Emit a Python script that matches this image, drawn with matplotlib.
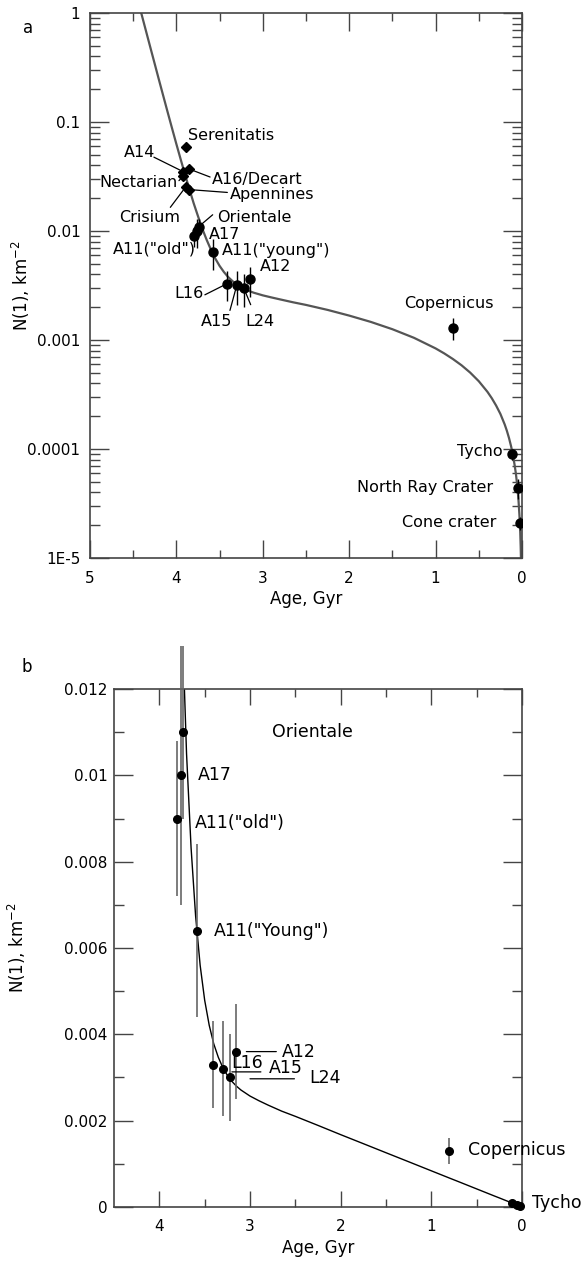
import numpy as np
import matplotlib.pyplot as plt

# crater counts (ages in Gyr, N(1) per km^2)
names = ['Serenitatis', 'A14', 'Nectarian', 'A16/Decart', 'Apennines', 'Crisium',
         'Orientale', 'A17', 'A11("old")', 'A11("young")', 'L16', 'A15', 'L24', 'A12',
         'Copernicus', 'Tycho', 'North Ray Crater', 'Cone crater']
ages = [3.89, 3.92, 3.92, 3.85, 3.85, 3.89,
        3.74, 3.76, 3.80, 3.58, 3.41, 3.30, 3.22, 3.15,
        0.80, 0.11, 0.05, 0.025]
n1 = [0.059, 0.035, 0.032, 0.037, 0.024, 0.0255,
      0.011, 0.010, 0.009, 0.0064, 0.0033, 0.0032, 0.0030, 0.0036,
      0.0013, 9e-5, 4.4e-5, 2.1e-5]
n1_err = [0, 0, 0, 0, 0, 0,
          0.002, 0.003, 0.0018, 0.002, 0.001, 0.0011, 0.001, 0.0011,
          0.0003, 1e-5, 0.9e-5, 0.3e-5]
basins = ['Serenitatis', 'A14', 'Nectarian', 'A16/Decart', 'Apennines', 'Crisium']

# chronology curve
curve_age = [4.45, 4.40, 4.35, 4.30, 4.25, 4.20, 4.15, 4.10, 4.05, 4.00, 3.95, 3.90,
             3.85, 3.80, 3.75, 3.70, 3.65, 3.60, 3.55, 3.50, 3.45, 3.40, 3.35, 3.30,
             3.25, 3.20, 3.15, 3.10, 3.05, 3.00, 2.90, 2.80, 2.65, 2.50, 2.25, 2.00,
             1.75, 1.50, 1.25, 1.00, 0.90, 0.80, 0.70, 0.60, 0.50, 0.40, 0.35, 0.30,
             0.25, 0.20, 0.175, 0.15, 0.125, 0.10, 0.085, 0.07, 0.06, 0.05, 0.04,
             0.03, 0.025, 0.02, 0.015, 0.01, 0.0]
curve_n1 = [1.348, 0.955, 0.676, 0.479, 0.340, 0.241, 0.1716, 0.1223, 0.0875, 0.0628,
            0.0454, 0.0330, 0.0243, 0.0180, 0.0137, 0.0105, 0.00832, 0.00674, 0.0056,
            0.00479, 0.00421, 0.00378, 0.00347, 0.00323, 0.00305, 0.00291, 0.0028,
            0.00271, 0.00264, 0.00257, 0.00246, 0.00236, 0.00222, 0.0021, 0.00189,
            0.001676, 0.001467, 0.001257, 0.001048, 0.000838, 0.000754, 0.00067,
            0.000587, 0.000503, 0.000419, 0.000335, 0.000293, 0.000251, 0.00021,
            0.000168, 0.000147, 0.000126, 0.000105, 8.4e-5, 7.1e-5, 5.9e-5, 5.0e-5,
            4.2e-5, 3.35e-5, 2.5e-5, 2.1e-5, 1.7e-5, 1.26e-5, 8.4e-6, 0.0]

ages = np.array(ages)
n1 = np.array(n1)
n1_err = np.array(n1_err)
is_basin = np.array([nm in basins for nm in names])

# label placement (x, y, ha) and leader start points
labels_a = {
    'Serenitatis': ('Serenitatis', 3.87, 0.0757, 'left'),
    'A14': ('A14', 4.25, 0.052, 'right'),
    'Nectarian': ('Nectarian', 3.98, 0.0276, 'right'),
    'A16/Decart': ('A16/Decart', 3.59, 0.0295, 'left'),
    'Apennines': ('Apennines', 3.38, 0.0218, 'left'),
    'Crisium': ('Crisium', 4.31, 0.0134, 'center'),
    'Orientale': ('Orientale', 3.53, 0.0134, 'left'),
    'A17': ('A17', 3.62, 0.0092, 'left'),
    'A11("old")': ('A11("old")', 3.78, 0.0068, 'right'),
    'A11("young")': ('A11("young")', 3.47, 0.0066, 'left'),
    'A12': ('A12', 3.03, 0.0047, 'left'),
    'L16': ('L16', 3.69, 0.0027, 'right'),
    'A15': ('A15', 3.54, 0.00147, 'center'),
    'L24': ('L24', 3.03, 0.00147, 'center'),
    'Copernicus': ('Copernicus', 0.845, 0.00215, 'center'),
    'Tycho': ('Tycho', 0.22, 9.4e-5, 'right'),
    'North Ray Crater': ('North Ray Crater', 0.335, 4.4e-5, 'right'),
    'Cone crater': ('Cone crater', 0.30, 2.1e-5, 'right'),
}
leaders_a = {
    'A14': (4.26, 0.0476),
    'Nectarian': (3.97, 0.029),
    'A16/Decart': (3.61, 0.0313),
    'Apennines': (3.41, 0.0226),
    'Crisium': (4.07, 0.0165),
    'Orientale': (3.58, 0.0141),
    'L16': (3.67, 0.0026),
    'A15': (3.38, 0.00187),
    'L24': (3.14, 0.00211),
}
labels_b = {
    'Orientale': ('Orientale', 2.76, 0.011, 'left'),
    'A17': ('A17', 3.57, 0.0100, 'left'),
    'A11("old")': ('A11("old")', 3.61, 0.0089, 'left'),
    'A11("young")': ('A11("Young")', 3.40, 0.0064, 'left'),
    'A12': ('A12', 2.65, 0.0036, 'left'),
    'L16': ('L16', 3.03, 0.00334, 'center'),
    'A15': ('A15', 2.61, 0.00322, 'center'),
    'L24': ('L24', 2.17, 0.00299, 'center'),
    'Copernicus': ('Copernicus', 0.60, 0.00132, 'left'),
    'Tycho': ('Tycho', -0.11, 0.0001, 'left'),
}
rules_b = [(3.04, 2.71, 0.0036), (3.20, 2.88, 0.00313), (3.00, 2.51, 0.00297)]

SPINE = '#444444'


def style_axes(ax, xmaj, xmin, ymaj, ymin, ypad):
    for s in ax.spines.values():
        s.set_color(SPINE)
        s.set_linewidth(1.2)
    ax.tick_params(which='both', direction='in', top=True, right=True,
                   color=SPINE, width=1.0, labelsize=11)
    ax.tick_params(axis='x', which='major', length=xmaj, pad=9)
    ax.tick_params(axis='x', which='minor', length=xmin)
    ax.tick_params(axis='y', which='major', length=ymaj, pad=ypad)
    ax.tick_params(axis='y', which='minor', length=ymin)


fig = plt.figure(figsize=(5.85, 12.64), dpi=100)

# ---- panel a (log) ----
ax = fig.add_axes([0.1538, 0.5585, 0.7385, 0.4312])
ax.set_yscale('log')
ax.plot(curve_age, curve_n1, color='#555555', lw=1.6, zorder=2)
circ = ~is_basin
ax.errorbar(ages[circ], n1[circ], yerr=n1_err[circ], fmt='o', color='black',
            ms=6.5, elinewidth=1.0, capsize=0, zorder=3)
ax.plot(ages[is_basin], n1[is_basin], 'D', color='black', ms=5.5, zorder=3)
for nm, (txt, tx, ty, ha) in labels_a.items():
    ax.text(tx, ty, txt, ha=ha, va='center', fontsize=11.5)
for nm, (sx, sy) in leaders_a.items():
    i = names.index(nm)
    ax.annotate('', xy=(ages[i], n1[i]), xytext=(sx, sy),
                arrowprops=dict(arrowstyle='-', color='black', lw=0.9,
                                shrinkA=0, shrinkB=3))
ax.set_xlim(5, 0)
ax.set_ylim(1e-5, 1)
ax.set_xticks([5, 4, 3, 2, 1, 0])
ax.set_xticks(np.arange(0.5, 5, 1.0), minor=True)
ax.set_yticks([1e-5, 1e-4, 1e-3, 1e-2, 1e-1, 1])
ax.set_yticklabels(['1E-5', '0.0001', '0.001', '0.01', '0.1', '1'])
style_axes(ax, 13, 6, 14, 7, 7)
ax.set_xlabel('Age, Gyr', fontsize=12)
ax.set_ylabel('N(1), km$^{-2}$', fontsize=12)
ax.xaxis.set_label_coords(0.5, -0.059)
ax.yaxis.set_label_coords(-0.135, 0.5)
fig.text(28 / 585, 1 - 28 / 1264, 'a', fontsize=12, ha='center', va='center')

# ---- panel b (linear) ----
bx = fig.add_axes([0.1949, 0.0451, 0.6974, 0.4098])
bx.plot(curve_age, curve_n1, color='black', lw=1.0, zorder=2)
sel = n1 < 0.012
bx.errorbar(ages[sel], n1[sel], yerr=n1_err[sel], fmt='none', ecolor='#666666',
            elinewidth=1.2, capsize=0, clip_on=False, zorder=3)
bx.plot(ages[sel], n1[sel], 'o', color='black', ms=5.5, clip_on=False, zorder=4)
for nm, (txt, tx, ty, ha) in labels_b.items():
    bx.text(tx, ty, txt, ha=ha, va='center', fontsize=12.5)
for x0, x1, yy in rules_b:
    bx.annotate('', xy=(x1, yy), xytext=(x0, yy),
                arrowprops=dict(arrowstyle='-', color='black', lw=0.9,
                                shrinkA=0, shrinkB=0))
bx.set_xlim(4.5, 0)
bx.set_ylim(0, 0.012)
bx.set_xticks([4, 3, 2, 1, 0])
bx.set_xticks(np.arange(0.5, 4.5, 1.0), minor=True)
bx.set_yticks([0, 0.002, 0.004, 0.006, 0.008, 0.01, 0.012])
bx.set_yticklabels(['0', '0.002', '0.004', '0.006', '0.008', '0.01', '0.012'])
bx.set_yticks(np.arange(0.001, 0.012, 0.002), minor=True)
style_axes(bx, 11.5, 6, 13.5, 7, 4.5)
bx.set_xlabel('Age, Gyr', fontsize=12)
bx.set_ylabel('N(1), km$^{-2}$', fontsize=12)
bx.xaxis.set_label_coords(0.5, -0.062)
bx.yaxis.set_label_coords(-0.211, 0.5)
fig.text(27 / 585, 1 - 667 / 1264, 'b', fontsize=12, ha='center', va='center')

fig.savefig('out.png', dpi=100)
